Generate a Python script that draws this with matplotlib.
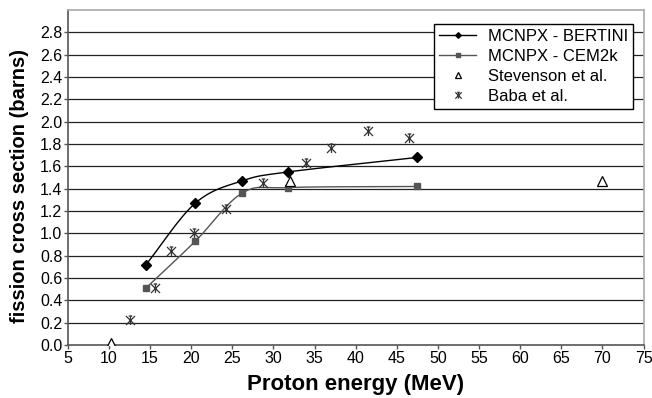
import numpy as np
import matplotlib
matplotlib.use("Agg")
import matplotlib.pyplot as plt
from matplotlib.path import Path

bertini_x = [14.5, 20.5, 26.2, 31.8, 47.5]
bertini_y = [0.72, 1.27, 1.47, 1.55, 1.68]
cem_x = [14.5, 20.5, 26.2, 31.8, 47.5]
cem_y = [0.51, 0.93, 1.36, 1.41, 1.42]
stev_x = [10.2, 32.0, 70.0]
stev_y = [0.02, 1.47, 1.47]
baba_x = [12.6, 15.6, 17.5, 20.3, 24.2, 28.7, 34.0, 37.0, 41.5, 46.5]
baba_y = [0.22, 0.51, 0.84, 1.00, 1.22, 1.45, 1.63, 1.76, 1.92, 1.85]

xticks = list(range(5, 80, 5))
yticks = [round(0.2 * i, 1) for i in range(15)]


def smooth(x, y, n=30):
    # Catmull-Rom style smoothing (like Excel smoothed lines)
    x = np.asarray(x, float); y = np.asarray(y, float)
    px = np.concatenate([[2 * x[0] - x[1]], x, [2 * x[-1] - x[-2]]])
    py = np.concatenate([[2 * y[0] - y[1]], y, [2 * y[-1] - y[-2]]])
    ox, oy = [], []
    t = np.linspace(0, 1, n)
    for i in range(1, len(px) - 2):
        for arr, out in ((px, ox), (py, oy)):
            p0, p1, p2, p3 = arr[i - 1], arr[i], arr[i + 1], arr[i + 2]
            out.extend(0.5 * ((2 * p1) + (-p0 + p2) * t + (2 * p0 - 5 * p1 + 4 * p2 - p3) * t ** 2
                              + (-p0 + 3 * p1 - 3 * p2 + p3) * t ** 3))
    return ox, oy


star = Path([(-1, -1), (1, 1), (-1, 1), (1, -1), (0, -1), (0, 1), (-0.4, 1), (0.4, 1)],
            [Path.MOVETO, Path.LINETO, Path.MOVETO, Path.LINETO, Path.MOVETO, Path.LINETO,
             Path.MOVETO, Path.LINETO])

plt.rcParams['font.family'] = ['Liberation Sans', 'DejaVu Sans']
fig = plt.figure(figsize=(6.52, 3.98), dpi=100)
ax = fig.add_axes([0.104, 0.133, 0.883, 0.842])

for yv in yticks[1:]:
    ax.axhline(yv, color='#222222', lw=0.9, zorder=1)

sx, sy = smooth(bertini_x, bertini_y)
ax.plot(sx, sy, color='black', lw=1.0, zorder=3)
ax.plot(bertini_x, bertini_y, ls='none', marker='D', ms=5.5, color='black', zorder=4)
ax.plot([], [], color='black', lw=1.0, marker='D', ms=4, label='MCNPX - BERTINI')

sx, sy = smooth(cem_x, cem_y)
ax.plot(sx, sy, color='#555555', lw=1.0, zorder=3)
ax.plot(cem_x, cem_y, ls='none', marker='s', ms=5, color='#555555', zorder=4)
ax.plot([], [], color='#555555', lw=1.0, marker='s', ms=4, label='MCNPX - CEM2k')

ax.plot(stev_x, stev_y, ls='none', marker='^', ms=7, mfc='white', mec='black', mew=0.9,
        zorder=5, label='Stevenson et al.')
ax.plot(baba_x, baba_y, ls='none', marker=star, ms=6.5, mfc='none', mec='#333333', mew=0.9,
        zorder=5, label='Baba et al.')

ax.set_xlim(5, 75)
ax.set_ylim(0, 3.0)
ax.set_xticks(xticks)
ax.set_yticks(yticks)
ax.set_yticklabels([f"{v:.1f}" for v in yticks])
ax.tick_params(axis='both', labelsize=11.5, length=3, width=1, color='#555555', pad=1)

ax.spines['left'].set_color('#555555')
ax.spines['bottom'].set_color('#555555')
ax.spines['top'].set_color('#aaaaaa')
ax.spines['right'].set_color('#aaaaaa')
for s in ax.spines.values():
    s.set_linewidth(1.2)

ax.set_xlabel('Proton energy (MeV)', fontsize=16, fontweight='bold', labelpad=6)
ax.set_ylabel('fission cross section (barns)', fontsize=14.5, fontweight='bold')
ax.yaxis.set_label_coords(-0.068, 0.475)

leg = ax.legend(loc='upper right', bbox_to_anchor=(0.996, 0.984), fontsize=12, frameon=True,
                fancybox=False, edgecolor='black', framealpha=1, borderpad=0.3,
                labelspacing=0.3, handlelength=2.2, handletextpad=0.7, markerscale=0.7)
leg.get_frame().set_linewidth(1.0)
leg.set_zorder(10)

fig.savefig('out.png', dpi=100)
